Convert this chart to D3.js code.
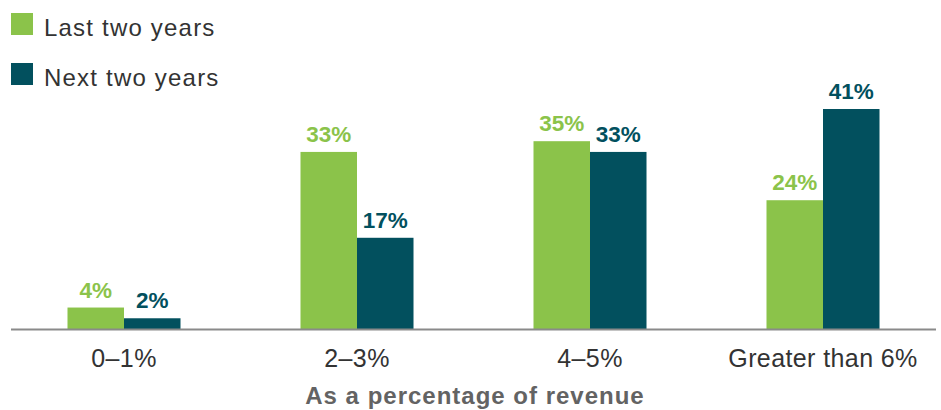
<!DOCTYPE html>
<html>
<head>
<meta charset="utf-8">
<script src="https://cdn.jsdelivr.net/npm/d3@7"></script>
<style>
  body { margin: 0; background: #fff; }
  svg { display: block; }
</style>
</head>
<body>
<div id="chart"></div>
<script>
// chart data
var categories = ["0\u20131%", "2\u20133%", "4\u20135%", "Greater than 6%"];
var seriesNames = ["Last two years", "Next two years"];
var lastTwoYears = [4, 33, 35, 24];
var nextTwoYears = [2, 17, 33, 41];
var axisTitle = "As a percentage of revenue";

var colors = ["#8bc34a", "#02505e"];

var w = 941;
var h = 410;
var baseY = 329;

var svg = d3.select("#chart")
            .append("svg")
            .attr("width", w)
            .attr("height", h);

var x0 = d3.scaleBand()
    .domain(categories)
    .range([7.5, 939.5])
    .paddingInner(0.515)
    .paddingOuter(0.2575);

var x1 = d3.scaleBand()
    .domain(seriesNames)
    .range([0, x0.bandwidth()]);

// 41% bar top sits at y=109
var y = d3.scaleLinear()
    .domain([0, 41])
    .range([baseY, 109]);

var rows = categories.map(function (c, i) {
    return { cat: c, values: [lastTwoYears[i], nextTwoYears[i]] };
});

var group = svg.selectAll(".grp")
    .data(rows)
    .enter()
    .append("g")
    .attr("class", "grp")
    .attr("transform", function (d) { return "translate(" + x0(d.cat) + ",0)"; });

group.selectAll("rect")
    .data(function (d) { return d.values.map(function (v, j) { return { s: seriesNames[j], v: v, j: j }; }); })
    .enter()
    .append("rect")
    .attr("x", function (d) { return x1(d.s); })
    .attr("y", function (d) { return y(d.v); })
    .attr("width", x1.bandwidth())
    .attr("height", function (d) { return baseY - y(d.v); })
    .style("fill", function (d) { return colors[d.j]; });

group.selectAll("text")
    .data(function (d) { return d.values.map(function (v, j) { return { s: seriesNames[j], v: v, j: j }; }); })
    .enter()
    .append("text")
    .attr("x", function (d) { return x1(d.s) + x1.bandwidth() / 2; })
    .attr("y", function (d) { return y(d.v) - 10; })
    .attr("text-anchor", "middle")
    .attr("font-family", "Liberation Sans, Arial, sans-serif")
    .attr("font-weight", "bold")
    .attr("font-size", 22.5)
    .style("fill", function (d) { return colors[d.j]; })
    .text(function (d) { return d.v + "%"; });

// baseline
svg.append("line")
    .attr("x1", 11)
    .attr("x2", 936)
    .attr("y1", baseY + 0.5)
    .attr("y2", baseY + 0.5)
    .style("stroke", "#8a8a8a")
    .style("stroke-width", 2);

// category labels
svg.selectAll(".cat")
    .data(categories)
    .enter()
    .append("text")
    .attr("class", "cat")
    .attr("x", function (d) { return x0(d) + x0.bandwidth() / 2; })
    .attr("y", 367)
    .attr("text-anchor", "middle")
    .attr("font-family", "Liberation Sans, Arial, sans-serif")
    .attr("font-size", 25)
    .style("letter-spacing", "0.4px")
    .style("fill", "#333")
    .text(function (d) { return d; });

svg.append("text")
    .attr("x", 475)
    .attr("y", 404)
    .attr("text-anchor", "middle")
    .attr("font-family", "Liberation Sans, Arial, sans-serif")
    .attr("font-weight", "bold")
    .attr("font-size", 24)
    .style("letter-spacing", "1px")
    .style("fill", "#636363")
    .text(axisTitle);

// legend
var legend = svg.selectAll(".leg")
    .data(seriesNames)
    .enter()
    .append("g")
    .attr("class", "leg")
    .attr("transform", function (d, i) { return "translate(11," + (13 + i * 50) + ")"; });

legend.append("rect")
    .attr("width", 22)
    .attr("height", 22)
    .style("fill", function (d, i) { return colors[i]; });

legend.append("text")
    .attr("x", 33)
    .attr("y", 23)
    .attr("font-family", "Liberation Sans, Arial, sans-serif")
    .attr("font-size", 24)
    .style("letter-spacing", "1.2px")
    .style("fill", "#333")
    .text(function (d) { return d; });
</script>
</body>
</html>
